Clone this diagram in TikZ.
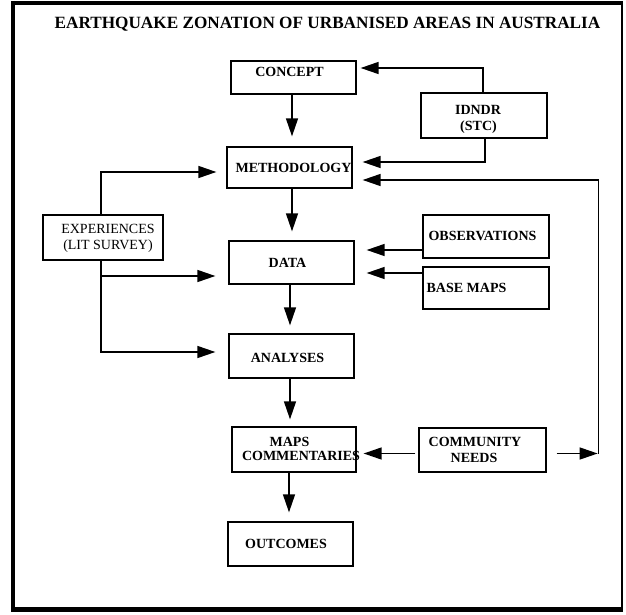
\documentclass[tikz,border=0pt]{standalone}
\usepackage{fontspec}
\setmainfont{Liberation Serif}
\usetikzlibrary{arrows.meta}
\begin{document}
\begin{tikzpicture}[x=1pt,y=-1pt,
  box/.style={draw, line width=1.3pt, inner sep=0pt, rectangle},
  bt/.style={font=\bfseries\fontsize{14}{15.5}\selectfont, inner sep=0pt, anchor=base},
  rt/.style={font=\fontsize{14}{15.5}\selectfont, inner sep=0pt, anchor=base},
  arr/.style={line width=1.4pt, -{Triangle[length=18pt,width=12pt]}}]
\useasboundingbox (0,0) rectangle (626,615);
% frame
\draw[line width=4.5pt] (13,1) -- (13,612);
\draw[line width=4pt] (11,3) -- (622,3);
\draw[line width=5pt] (11,609) -- (622,609);
\draw[line width=1.2pt] (622,1) -- (622,612);
% title
\node[inner sep=0pt, anchor=base, font=\bfseries\fontsize{17.2}{20}\selectfont] (title) at (327.5,28.5) {EARTHQUAKE ZONATION OF URBANISED AREAS IN AUSTRALIA};
% boxes
\node[box, minimum width=125, minimum height=33] (concept) at (293.5,77.5) {};
\node[box, minimum width=126, minimum height=45] (idndr) at (484,115.5) {};
\node[box, minimum width=125, minimum height=41] (meth) at (289.5,167.5) {};
\node[box, minimum width=120, minimum height=45] (exp) at (103,237.5) {};
\node[box, minimum width=126, minimum height=43] (obs) at (486,236.5) {};
\node[box, minimum width=126, minimum height=42] (base) at (486,288) {};
\node[box, minimum width=125, minimum height=43] (data) at (291.5,262.5) {};
\node[box, minimum width=125, minimum height=44] (anal) at (291.5,356) {};
\node[box, minimum width=124, minimum height=45] (maps) at (294,449.5) {};
\node[box, minimum width=127, minimum height=44] (comm) at (482.5,450) {};
\node[box, minimum width=125, minimum height=44] (out) at (290.5,544) {};
% texts
\node[bt] at ([shift={(-4,-0.5)}]concept.center) {CONCEPT};
\node[bt] at ([shift={(-6,-0.5)}]idndr.center) {IDNDR};
\node[bt] at ([shift={(-5.5,15)}]idndr.center) {(STC)};
\node[bt] at ([shift={(4,4.5)}]meth.center) {METHODOLOGY};
\node[rt] at ([shift={(5,-4.5)}]exp.center) {EXPERIENCES};
\node[rt] at ([shift={(5,11.5)}]exp.center) {(LIT SURVEY)};
\node[bt] at ([shift={(-3.5,3.5)}]obs.center) {OBSERVATIONS};
\node[bt] at ([shift={(-19.5,4)}]base.center) {BASE MAPS};
\node[bt] at ([shift={(-4,4.5)}]data.center) {DATA};
\node[bt] at ([shift={(-4,6)}]anal.center) {ANALYSES};
\node[bt] at ([shift={(-4.5,-3.5)}]maps.center) {MAPS};
\node[bt] at ([shift={(7,10.5)}]maps.center) {COMMENTARIES};
\node[bt] at ([shift={(-7.5,-4)}]comm.center) {COMMUNITY};
\node[bt] at ([shift={(-8.5,12)}]comm.center) {NEEDS};
\node[bt] at ([shift={(-4.5,4)}]out.center) {OUTCOMES};
% vertical flow
\draw[arr] ([shift={(-1.5,0)}]concept.south) -- ([shift={(2.5,-10)}]meth.north);
\draw[arr] ([shift={(2.5,0)}]meth.south) -- ([shift={(0.5,-9)}]data.north);
\draw[arr] ([shift={(-1.5,0)}]data.south) -- ([shift={(-1.5,-8)}]anal.north);
\draw[arr] ([shift={(-1.5,0)}]anal.south) -- ([shift={(-4,-7)}]maps.north);
\draw[arr] ([shift={(-5,0)}]maps.south) -- ([shift={(-1.5,-9)}]out.north);
% IDNDR
\draw[arr] ([shift={(-1,0)}]idndr.north) |- ([shift={(4,-9.5)}]concept.east);
\draw[arr] ([shift={(1,0)}]idndr.south) |- ([shift={(10,-5.5)}]meth.east);
% experiences
\draw[arr] ([shift={(-2,0)}]exp.north) |- ([shift={(-10,4.5)}]meth.west);
\draw[arr] ([shift={(-2,0)}]exp.south) |- ([shift={(-13,13.5)}]data.west);
\draw[arr] ([shift={(-2,0)}]exp.south) |- ([shift={(-13,-4)}]anal.west);
% observations, base maps
\draw[arr] ([shift={(0,13.5)}]obs.west) -- ([shift={(12,-12.5)}]data.east);
\draw[arr] ([shift={(0,-15)}]base.west) -- ([shift={(12,10.5)}]data.east);
% community needs
\draw[arr] ([shift={(-3,3.5)}]comm.west) -- ([shift={(7,4)}]maps.east);
\draw[arr] ([shift={(10,3.5)}]comm.east) -- ++(41,0) coordinate (fb);
\draw[arr] ([shift={(1,0)}]fb) |- ([shift={(10,12.5)}]meth.east);
\end{tikzpicture}
\end{document}
